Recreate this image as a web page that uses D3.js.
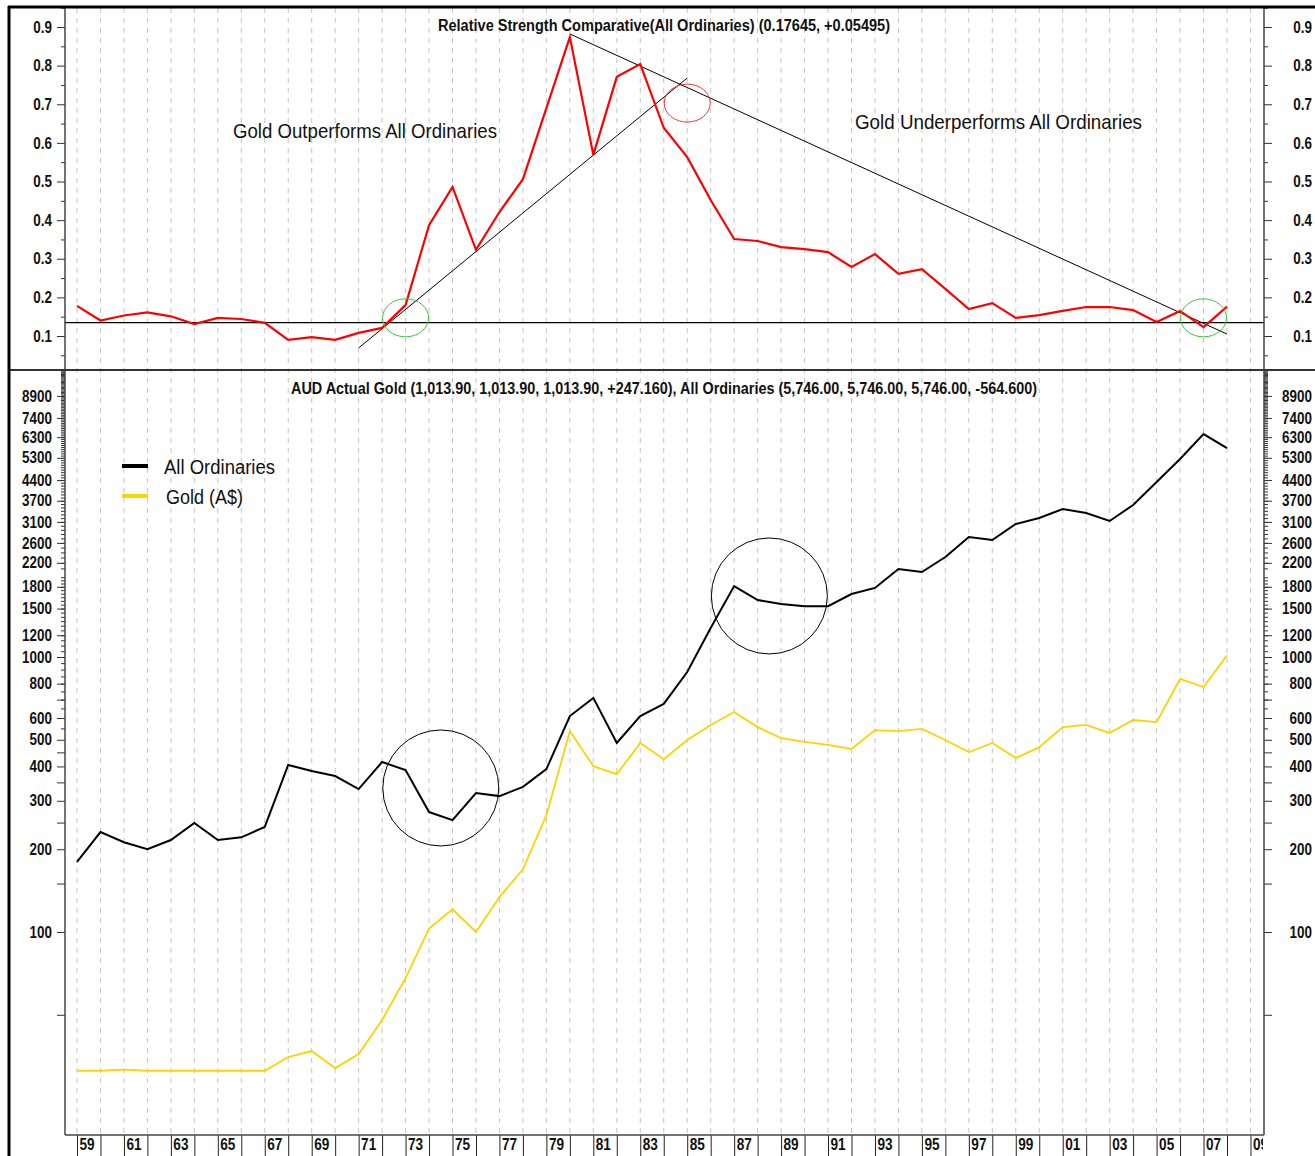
<!DOCTYPE html>
<html>
<head>
<meta charset="utf-8">
<script src="https://cdn.jsdelivr.net/npm/d3@7"></script>
<style>
  body { margin: 0; background: #fff; }
  svg { display: block; }
  .tick text, .lbl { font-family: "Liberation Sans", Arial, sans-serif; font-weight: bold; fill: #111; }
  .note { font-family: "Liberation Sans", Arial, sans-serif; fill: #111; }
</style>
</head>
<body>
<div id="chart"></div>
<script>
// 1: DATA
const years = [1959, 1960, 1961, 1962, 1963, 1964, 1965, 1966, 1967, 1968,
               1969, 1970, 1971, 1972, 1973, 1974, 1975, 1976, 1977, 1978,
               1979, 1980, 1981, 1982, 1983, 1984, 1985, 1986, 1987, 1988,
               1989, 1990, 1991, 1992, 1993, 1994, 1995, 1996, 1997, 1998,
               1999, 2000, 2001, 2002, 2003, 2004, 2005, 2006, 2007, 2008];

// relative strength gold / all ordinaries
const rsValues = [0.178, 0.140, 0.153, 0.161, 0.151, 0.131, 0.147, 0.144, 0.134, 0.090,
                  0.097, 0.090, 0.108, 0.121, 0.180, 0.387, 0.486, 0.323, 0.421, 0.506,
                  0.690, 0.874, 0.569, 0.771, 0.804, 0.639, 0.563, 0.452, 0.351, 0.346,
                  0.330, 0.325, 0.317, 0.279, 0.312, 0.261, 0.273, 0.222, 0.170, 0.185,
                  0.147, 0.154, 0.165, 0.175, 0.175, 0.167, 0.136, 0.165, 0.123, 0.176];

const allOrds = [180, 231, 212, 200, 216, 249, 216, 221, 241, 405,
                 385, 369, 331, 415, 388, 273, 255, 320, 312, 337,
                 391, 610, 710, 487, 610, 675, 882, 1275, 1811, 1611,
                 1559, 1530, 1530, 1694, 1783, 2090, 2037, 2310, 2731, 2662,
                 3046, 3201, 3452, 3340, 3123, 3571, 4329, 5249, 6467, 5746];

const goldAud = [31.3, 31.3, 31.6, 31.3, 31.3, 31.3, 31.3, 31.3, 31.3, 35.1,
                 36.9, 32.0, 36.0, 47.9, 68, 103, 121, 100, 134, 169,
                 266, 538, 401, 375, 487, 425, 499, 566, 631, 556,
                 507, 491, 479, 463, 542, 538, 548, 499, 451, 487,
                 429, 470, 556, 566, 529, 590, 580, 832, 778, 1013.9];

const rsTicks = [0.1, 0.2, 0.3, 0.4, 0.5, 0.6, 0.7, 0.8, 0.9];
const logTicks = [100, 200, 300, 400, 500, 600, 800, 1000, 1200, 1500, 1800,
                  2200, 2600, 3100, 3700, 4400, 5300, 6300, 7400, 8900];
const axisYears = years.concat([2009]);

// trend lines and highlight rings (year, value)
const rsBase = 0.1345;
const upTrend = [[1971, 0.069], [1985, 0.768]];
const downTrend = [[1980, 0.882], [2008, 0.105]];
const rsRings = [
  { year: 1973, value: 0.147, color: "#3c3" },
  { year: 1985, value: 0.703, color: "#f33" },
  { year: 2007, value: 0.147, color: "#3c3" }
];
const priceRings = [
  { year: 1974.5, value: 334 },
  { year: 1988.5, value: 1667 }
];

const topTitle = "Relative Strength Comparative(All Ordinaries) (0.17645, +0.05495)";
const botTitle = "AUD Actual Gold (1,013.90, 1,013.90, 1,013.90, +247.160), All Ordinaries (5,746.00, 5,746.00, 5,746.00, -564.600)";

// 2: LAYOUT
const W = 1315, H = 1156;
const plotL = 65, plotR = 1264, frameT = 8, split = 370, plotB = 1135;

const svg = d3.select("#chart").append("svg")
    .attr("width", W).attr("height", H);

// squeeze tick text horizontally so it looks like a narrow font
function narrow(sel, f) {
    sel.each(function () {
        const t = d3.select(this);
        const x0 = +t.attr("x") || 0;
        t.attr("x", x0 / f).attr("transform", `scale(${f},1)`);
    });
}
function fitWidth(sel, w) {
    sel.attr("textLength", w).attr("lengthAdjust", "spacingAndGlyphs");
}

// 3: SCALES
const x = d3.scaleLinear().domain([1959, 2008]).range([77, 1227]);
const yTop = d3.scaleLinear().domain([0.1, 0.9]).range([336, 27]);
const yBot = d3.scaleLog().domain([100, 1000]).range([932, 657]);

// clip regions
const defs = svg.append("defs");
defs.append("clipPath").attr("id", "clipTop").append("rect")
    .attr("x", plotL).attr("y", frameT).attr("width", plotR - plotL).attr("height", split - frameT);
defs.append("clipPath").attr("id", "clipBot").append("rect")
    .attr("x", plotL).attr("y", split).attr("width", plotR - plotL).attr("height", plotB - split);
defs.append("clipPath").attr("id", "clipX").append("rect")
    .attr("x", plotL).attr("y", plotB).attr("width", plotR - plotL - 1).attr("height", H - plotB);

// vertical dashed grid
svg.append("g").selectAll("line")
    .data(axisYears)
    .join("line")
    .attr("x1", d => x(d)).attr("x2", d => x(d))
    .attr("y1", frameT).attr("y2", plotB)
    .attr("stroke", "#c4c4c4")
    .attr("stroke-dasharray", "5,5");

// 4: TOP PANEL
const topG = svg.append("g").attr("clip-path", "url(#clipTop)");

topG.append("line")
    .attr("x1", plotL).attr("x2", plotR)
    .attr("y1", yTop(rsBase)).attr("y2", yTop(rsBase))
    .attr("stroke", "#000").attr("stroke-width", 1.3);

[upTrend, downTrend].forEach(t => {
    topG.append("line")
        .attr("x1", x(t[0][0])).attr("y1", yTop(t[0][1]))
        .attr("x2", x(t[1][0])).attr("y2", yTop(t[1][1]))
        .attr("stroke", "#000").attr("stroke-width", 1);
});

const rsLine = d3.line()
    .x((d, i) => x(years[i]))
    .y(d => yTop(d));

topG.append("path")
    .datum(rsValues)
    .attr("fill", "none")
    .attr("stroke", "#f00")
    .attr("stroke-width", 2.2)
    .attr("d", rsLine);

topG.selectAll(".ring")
    .data(rsRings)
    .join("ellipse")
    .attr("cx", d => x(d.year)).attr("cy", d => yTop(d.value))
    .attr("rx", 23).attr("ry", 19)
    .attr("fill", "none")
    .attr("stroke", d => d.color).attr("stroke-width", 1);

svg.append("text").attr("class", "lbl")
    .attr("x", 438).attr("y", 31)
    .style("font-size", "16px")
    .text(topTitle)
    .call(fitWidth, 452);

svg.append("text").attr("class", "note")
    .attr("x", 233).attr("y", 138)
    .style("font-size", "21px")
    .text("Gold Outperforms All Ordinaries")
    .call(fitWidth, 264);

svg.append("text").attr("class", "note")
    .attr("x", 855).attr("y", 129)
    .style("font-size", "21px")
    .text("Gold Underperforms All Ordinaries")
    .call(fitWidth, 287);

// top axes
const rsMinor = [0.05, 0.15, 0.25, 0.35, 0.45, 0.55, 0.65, 0.75, 0.85, 0.95];
function styleAxis(g) {
    g.select(".domain").remove();
    g.selectAll(".tick line").attr("stroke", "#333");
    g.selectAll(".tick text").style("font-size", "16px").call(narrow, 0.84);
}
function rightLabels(g) {
    g.selectAll(".tick text").attr("text-anchor", "end").attr("x", 48);
}
svg.append("g").attr("transform", `translate(${plotL},0)`)
    .call(d3.axisLeft(yTop).tickValues(rsTicks).tickSize(8).tickPadding(5).tickFormat(d3.format(".1f")))
    .call(styleAxis);
svg.append("g").attr("transform", `translate(${plotL},0)`)
    .call(d3.axisLeft(yTop).tickValues(rsMinor).tickSize(4).tickFormat(""))
    .call(styleAxis);
svg.append("g").attr("transform", `translate(${plotR},0)`)
    .call(d3.axisRight(yTop).tickValues(rsTicks).tickSize(8).tickFormat(d3.format(".1f")))
    .call(rightLabels)
    .call(styleAxis);
svg.append("g").attr("transform", `translate(${plotR},0)`)
    .call(d3.axisRight(yTop).tickValues(rsMinor).tickSize(4).tickFormat(""))
    .call(styleAxis);

// 5: BOTTOM PANEL
const botG = svg.append("g").attr("clip-path", "url(#clipBot)");

const priceLine = d3.line()
    .x((d, i) => x(years[i]))
    .y(d => yBot(d));

botG.append("path")
    .datum(goldAud)
    .attr("fill", "none")
    .attr("stroke", "#ffd200")
    .attr("stroke-width", 1.8)
    .attr("d", priceLine);

botG.append("path")
    .datum(allOrds)
    .attr("fill", "none")
    .attr("stroke", "#000")
    .attr("stroke-width", 2)
    .attr("d", priceLine);

botG.selectAll(".pring")
    .data(priceRings)
    .join("circle")
    .attr("cx", d => x(d.year)).attr("cy", d => yBot(d.value))
    .attr("r", 58)
    .attr("fill", "none")
    .attr("stroke", "#000").attr("stroke-width", 1);

svg.append("text").attr("class", "lbl")
    .attr("x", 291).attr("y", 394)
    .style("font-size", "16px")
    .text(botTitle)
    .call(fitWidth, 746);

// legend
const legendItems = [["All Ordinaries", "#000", 111], ["Gold (A$)", "#ffd200", 77]];
const legend = svg.append("g").attr("transform", "translate(122,466)");
legendItems.forEach((d, i) => {
    legend.append("line")
        .attr("x1", 0).attr("x2", 26)
        .attr("y1", i * 30).attr("y2", i * 30)
        .attr("stroke", d[1]).attr("stroke-width", 4);
    legend.append("text").attr("class", "note")
        .attr("x", 42 + i * 2).attr("y", i * 30 + 8)
        .style("font-size", "20px")
        .text(d[0])
        .call(fitWidth, d[2]);
});

// log axes with dense ruler ticks
const logMinor = [];
for (let v = 550; v < 1000; v += 50) logMinor.push(v);
for (let v = 1050; v < 2000; v += 50) logMinor.push(v);
for (let v = 2100; v <= 11000; v += 100) logMinor.push(v);
const logMajor = logTicks.concat([50, 150, 250, 350, 450, 700]);

svg.append("g").attr("transform", `translate(${plotL},0)`)
    .call(d3.axisLeft(yBot).tickValues(logMinor).tickSize(4).tickFormat(""))
    .call(styleAxis);
svg.append("g").attr("transform", `translate(${plotL},0)`)
    .call(d3.axisLeft(yBot).tickValues(logMajor).tickSize(8).tickPadding(5)
        .tickFormat(d => logTicks.includes(d) ? d : ""))
    .call(styleAxis);
svg.append("g").attr("transform", `translate(${plotR},0)`)
    .call(d3.axisRight(yBot).tickValues(logMinor).tickSize(4).tickFormat(""))
    .call(styleAxis);
svg.append("g").attr("transform", `translate(${plotR},0)`)
    .call(d3.axisRight(yBot).tickValues(logMajor).tickSize(8)
        .tickFormat(d => logTicks.includes(d) ? d : ""))
    .call(rightLabels)
    .call(styleAxis);

// 6: X AXIS
const xAxis = svg.append("g")
    .attr("clip-path", "url(#clipX)")
    .append("g")
    .attr("transform", `translate(0,${plotB})`)
    .call(d3.axisBottom(x).tickValues(axisYears).tickSize(H - plotB)
        .tickFormat(d => d % 2 === 1 ? String(d).slice(2) : ""));
xAxis.select(".domain").remove();
xAxis.selectAll(".tick line").attr("stroke", "#222");
xAxis.selectAll(".tick text")
    .attr("text-anchor", "start")
    .attr("x", 2).attr("y", 3).attr("dy", "0.71em")
    .style("font-size", "17px")
    .call(narrow, 0.8);

// 7: FRAME AND AXIS LINES
svg.append("line").attr("x1", plotL).attr("x2", plotL).attr("y1", frameT).attr("y2", plotB)
    .attr("stroke", "#444").attr("stroke-width", 1.5);
svg.append("line").attr("x1", plotR).attr("x2", plotR).attr("y1", frameT).attr("y2", plotB)
    .attr("stroke", "#444").attr("stroke-width", 1.5);
svg.append("line").attr("x1", plotL).attr("x2", plotR).attr("y1", plotB).attr("y2", plotB)
    .attr("stroke", "#444").attr("stroke-width", 1.5);
svg.append("line").attr("x1", 9).attr("x2", W).attr("y1", split).attr("y2", split)
    .attr("stroke", "#333").attr("stroke-width", 2);
svg.append("line").attr("x1", 8).attr("x2", W).attr("y1", 7).attr("y2", 7)
    .attr("stroke", "#000").attr("stroke-width", 3);
svg.append("line").attr("x1", 9).attr("x2", 9).attr("y1", 6).attr("y2", H)
    .attr("stroke", "#000").attr("stroke-width", 3);
</script>
</body>
</html>
